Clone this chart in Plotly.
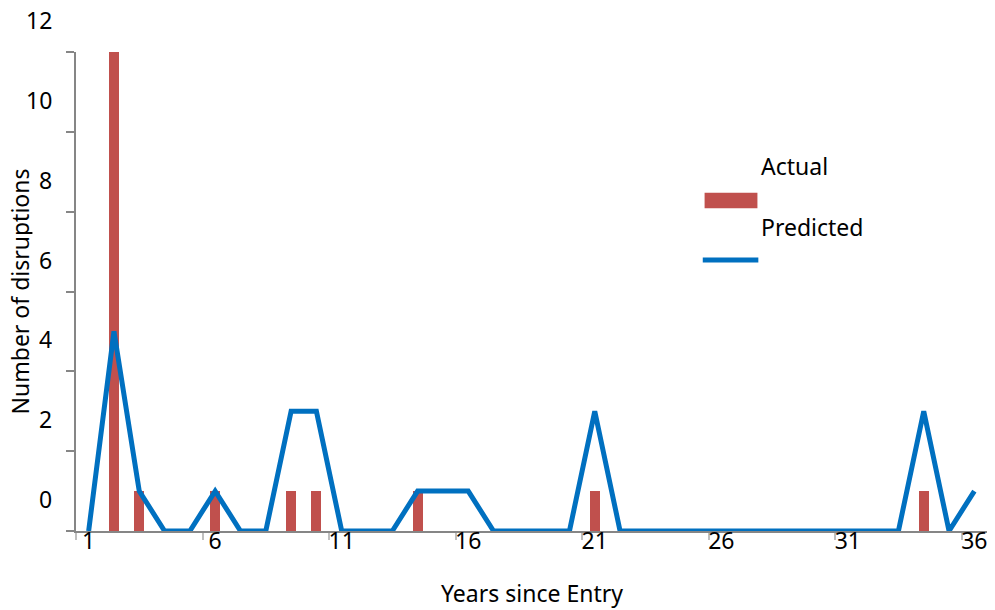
import plotly.graph_objects as go

# ---- data ----
years = list(range(1, 37))
predicted = [0, 5, 1, 0, 0, 1, 0, 0, 3, 3, 0, 0, 0, 1, 1, 1, 0, 0, 0, 0,
             3, 0, 0, 0, 0, 0, 0, 0, 0, 0, 0, 0, 0, 3, 0, 1]
actual_years = [2, 3, 6, 9, 10, 14, 21, 34]
actual_values = [12, 1, 1, 1, 1, 1, 1, 1]
x_tick_vals = [1, 6, 11, 16, 21, 26, 31, 36]
x_tick_text = ["1", "6", "11", "16", "21", "26", "31", "36"]
x_minor_vals = [0.5, 5.5, 10.5, 15.5, 20.5, 25.5, 30.5, 35.5]
y_tick_vals = [0, 2, 4, 6, 8, 10, 12]
y_tick_text = ["0", "2", "4", "6", "8", "10", "12"]

# ---- styles ----
FONT = "Noto Sans"
FS = 23
RED = "#C0504D"
BLUE = "#0070C0"
AXIS = "#868686"
Y_MAX = 12
LABEL_SHIFT = 0.8  # y tick labels are drawn shifted up in the original

fig = go.Figure()
fig.add_trace(go.Bar(x=actual_years, y=actual_values, width=0.4,
                     marker=dict(color=RED, line=dict(width=0)),
                     name="Actual", showlegend=False))
fig.add_trace(go.Scatter(x=years, y=predicted, mode="lines",
                         line=dict(color=BLUE, width=5),
                         cliponaxis=False, name="Predicted", showlegend=False))

annotations = []
for v, t in zip(y_tick_vals, y_tick_text):
    annotations.append(dict(text=t, xref="paper", yref="paper", x=-0.024,
                            y=(v + LABEL_SHIFT) / Y_MAX, height=24,
                            xanchor="right", yanchor="middle", showarrow=False,
                            font=dict(family=FONT, size=FS, color="#000")))
annotations.append(dict(text="Number of disruptions", xref="paper", yref="paper",
                        x=-0.061, y=0.501, textangle=-90, xanchor="center", yanchor="middle",
                        height=24,
                        showarrow=False, font=dict(family=FONT, size=FS, color="#000")))
annotations.append(dict(text="Years since Entry", xref="paper", yref="paper",
                        x=0.5005, y=-0.129, xanchor="center", yanchor="middle",
                        showarrow=False, font=dict(family=FONT, size=FS, color="#000")))
annotations.append(dict(text="Actual", xref="paper", yref="paper", x=0.750, y=0.762,
                        xanchor="left", yanchor="middle", showarrow=False,
                        font=dict(family=FONT, size=FS, color="#000")))
annotations.append(dict(text="Predicted", xref="paper", yref="paper", x=0.750, y=0.635,
                        xanchor="left", yanchor="middle", showarrow=False,
                        font=dict(family=FONT, size=FS, color="#000")))

shapes = [
    dict(type="rect", xref="paper", yref="paper", x0=0.690, x1=0.748, y0=0.674, y1=0.706,
         fillcolor=RED, line=dict(width=0)),
    dict(type="line", xref="paper", yref="paper", x0=0.688, x1=0.749, y0=0.566, y1=0.566,
         line=dict(color=BLUE, width=5)),
]

fig.update_layout(
    width=995, height=610,
    margin=dict(l=68, r=16, t=44, b=87),
    paper_bgcolor="white", plot_bgcolor="white",
    font=dict(family=FONT, size=FS, color="#000"),
    annotations=annotations, shapes=shapes,
    bargap=0,
    xaxis=dict(range=[0.5, 36.5], tickmode="array", tickvals=x_tick_vals, ticktext=x_tick_text,
               ticks="", showline=True, linecolor=AXIS, linewidth=2, showgrid=False,
               zeroline=False, ticklabelstandoff=-12,
               tickfont=dict(family=FONT, size=FS, color="#000"),
               minor=dict(tickmode="array", tickvals=x_minor_vals, ticks="outside",
                          ticklen=7, tickcolor="#BFBFBF", tickwidth=2)),
    yaxis=dict(range=[0, Y_MAX], tickmode="array", tickvals=y_tick_vals, showticklabels=False,
               ticks="outside", ticklen=8, tickcolor=AXIS, tickwidth=2,
               showline=True, linecolor=AXIS, linewidth=2, showgrid=False, zeroline=False),
)

fig.write_html("out.html")
